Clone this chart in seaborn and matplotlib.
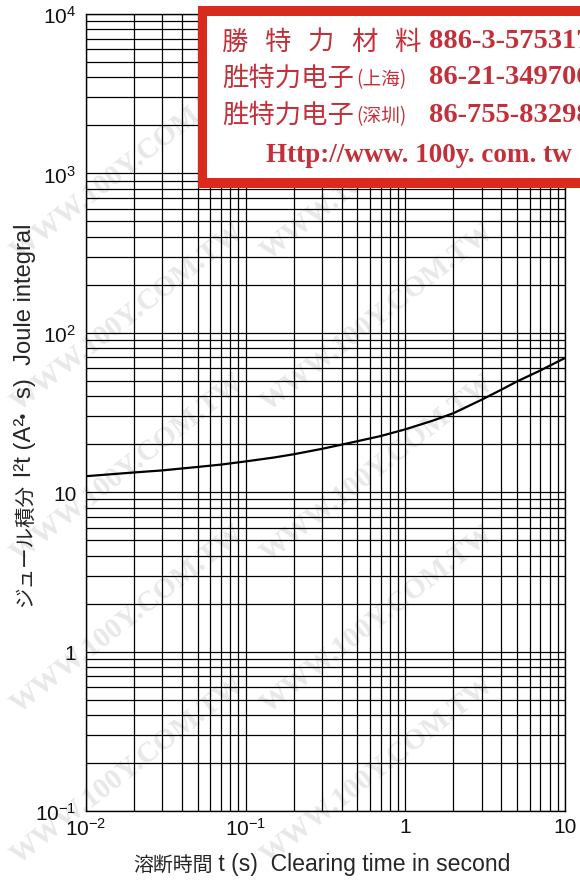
import numpy as np
import pandas as pd
import matplotlib
matplotlib.use("Agg")
import matplotlib.pyplot as plt
import matplotlib.ticker as mticker
from matplotlib.patches import Rectangle
import seaborn as sns

# Curve (clearing time in s, I2t in A2s)
clear_time = [0.01, 0.02, 0.03, 0.05, 0.07, 0.1, 0.15, 0.2, 0.3, 0.45, 0.7,
              1.0, 1.5, 2.0, 3.0, 4.0, 5.0, 7.0, 10.0]
joule_int = [12.6, 13.3, 13.7, 14.4, 14.9, 15.6, 16.5, 17.3, 18.7, 20.4, 22.5,
             24.8, 28.2, 31.3, 38.0, 44.0, 49.5, 58.0, 69.5]

x_ticks = [0.01, 0.1, 1, 10]
x_labels = [r"$\mathregular{10^{-2}}$", r"$\mathregular{10^{-1}}$", "1", "10"]
y_ticks = [0.1, 1, 10, 100, 1000, 10000]
y_labels = [r"$\mathregular{10^{-1}}$", "1", "10", r"$\mathregular{10^{2}}$",
            r"$\mathregular{10^{3}}$", r"$\mathregular{10^{4}}$"]

# axis titles split into runs so CJK and latin parts get their own font
CJK = "Noto Sans CJK JP"
LAT = "Liberation Sans"
xlabel_runs = [("溶断時間", CJK, 13), (" t (s)  Clearing time in second", LAT, 15)]
ylabel_runs = [("ジュール積分", CJK, 13), (" I²t (A²", LAT, 15), ("・", CJK, 13),
               ("s)  Joule integral", LAT, 15)]

# banner text: (big chinese part, small part in brackets, phone number)
banner_name = ["勝特力材料", "胜特力电子", "胜特力电子"]
banner_city = ["", "(上海)", "(深圳)"]
banner_phone = ["886-3-5753170", "86-21-34970699", "86-755-83298787"]
banner_url = "Http://www. 100y. com. tw"

sns.set_style("white")
plt.rcParams['font.family'] = ['Liberation Sans', 'DejaVu Sans']
plt.rcParams['mathtext.fontset'] = 'custom'
plt.rcParams['mathtext.rm'] = 'Liberation Sans'

df = pd.DataFrame({"t": clear_time, "i2t": joule_int})

W, H = 580, 887
fig = plt.figure(figsize=(W / 100, H / 100), dpi=100)
ax = fig.add_axes([86 / W, 1 - 812 / H, (565 - 86) / W, (812 - 15) / H])
ax.set_zorder(2)
ax.set_facecolor("none")

# faint watermark text behind everything
for xf in [0.01, 0.44]:
    for yf in [0.02, 0.19, 0.36, 0.53, 0.70]:
        fig.text(xf, yf, "WWW.100Y.COM.TW", rotation=38, fontsize=21,
                 color="#e8e8e8", family="Liberation Serif", weight="bold",
                 ha="left", va="bottom", zorder=-5)

sns.lineplot(data=df, x="t", y="i2t", ax=ax, color="black", linewidth=1.6, zorder=5)
ax.set_xscale("log")
ax.set_yscale("log")
ax.set_xlim(0.01, 10)
ax.set_ylim(0.1, 10000)
ax.set_xlabel("")
ax.set_ylabel("")

ax.xaxis.set_major_locator(mticker.FixedLocator(x_ticks))
ax.xaxis.set_major_formatter(mticker.FixedFormatter(x_labels))
ax.yaxis.set_major_locator(mticker.FixedLocator(y_ticks))
ax.yaxis.set_major_formatter(mticker.FixedFormatter(y_labels))
ax.xaxis.set_minor_locator(mticker.LogLocator(base=10, subs=np.arange(2, 10)))
ax.yaxis.set_minor_locator(mticker.LogLocator(base=10, subs=np.arange(2, 10)))
ax.xaxis.set_minor_formatter(mticker.NullFormatter())
ax.yaxis.set_minor_formatter(mticker.NullFormatter())
ax.grid(which="both", color="black", linewidth=0.9)
ax.tick_params(which="both", length=0, labelsize=15, colors="#111111")
ax.tick_params(axis="y", pad=7)
ax.tick_params(axis="x", pad=4)
for s in ax.spines.values():
    s.set_color("black")
    s.set_linewidth(1.0)

renderer = fig.canvas.get_renderer()


def fit_runs(runs, target):
    # scale the run sizes so the whole title spans the target length in px
    widths = []
    for txt, fam, size in runs:
        t = fig.text(0, 0, txt, family=fam, fontsize=size)
        widths.append(t.get_window_extent(renderer).width)
        t.remove()
    k = target / sum(widths)
    return [(txt, fam, size * k) for txt, fam, size in runs], [w * k for w in widths]


# x title: spans x 133..512 px, baseline at y=871 px
runs, wx = fit_runs(xlabel_runs, 379)
pos = 133
for (txt, fam, size), w in zip(runs, wx):
    fig.text(pos / W, 1 - 871 / H, txt, family=fam, fontsize=size,
             ha="left", va="baseline")
    pos += w

# y title: rotated, spans y 607..223 px, baseline at x=31 px
runs, wy = fit_runs(ylabel_runs, 384)
pos = 607
for (txt, fam, size), w in zip(runs, wy):
    base_x = 24 if txt == "・" else 31
    fig.text(base_x / W, 1 - pos / H, txt, family=fam, fontsize=size, rotation=90,
             rotation_mode="anchor", ha="left", va="baseline")
    pos -= w

# red banner in the upper right, running past the right edge
red = "#d92a1e"
txt_red = "#c4303a"
fig.patches.append(Rectangle((198 / W, 1 - 189 / H), 500 / W, 182 / H,
                             transform=fig.transFigure, facecolor=red,
                             edgecolor="none", zorder=10))
fig.patches.append(Rectangle((207 / W, 1 - 179 / H), 500 / W, 162 / H,
                             transform=fig.transFigure, facecolor="white",
                             edgecolor="none", zorder=11))
line_y = [42, 78, 115]
for i in range(3):
    yy = 1 - line_y[i] / H
    if i == 0:
        # first line has wide letter spacing
        for k, ch in enumerate(banner_name[i]):
            fig.text((222 + 43 * k) / W, yy, ch, ha="left", va="center",
                     fontsize=19, color=txt_red, family="Noto Sans CJK SC", zorder=12)
    else:
        fig.text(222 / W, yy, banner_name[i], ha="left", va="center",
                 fontsize=19, color=txt_red, family="Noto Sans CJK SC", zorder=12)
        fig.text(356 / W, yy - 2 / H, banner_city[i], ha="left", va="center",
                 fontsize=13.5, color=txt_red, family="Noto Sans CJK SC", zorder=12)
    fig.text(429 / W, yy, banner_phone[i], ha="left", va="center", fontsize=20.5,
             color=txt_red, family="Liberation Serif", weight="bold", zorder=12)
fig.text(266 / W, 1 - 155 / H, banner_url, ha="left", va="center", fontsize=19.5,
         color=txt_red, family="Liberation Serif", weight="bold", zorder=12)

fig.savefig("out.png", dpi=100)
